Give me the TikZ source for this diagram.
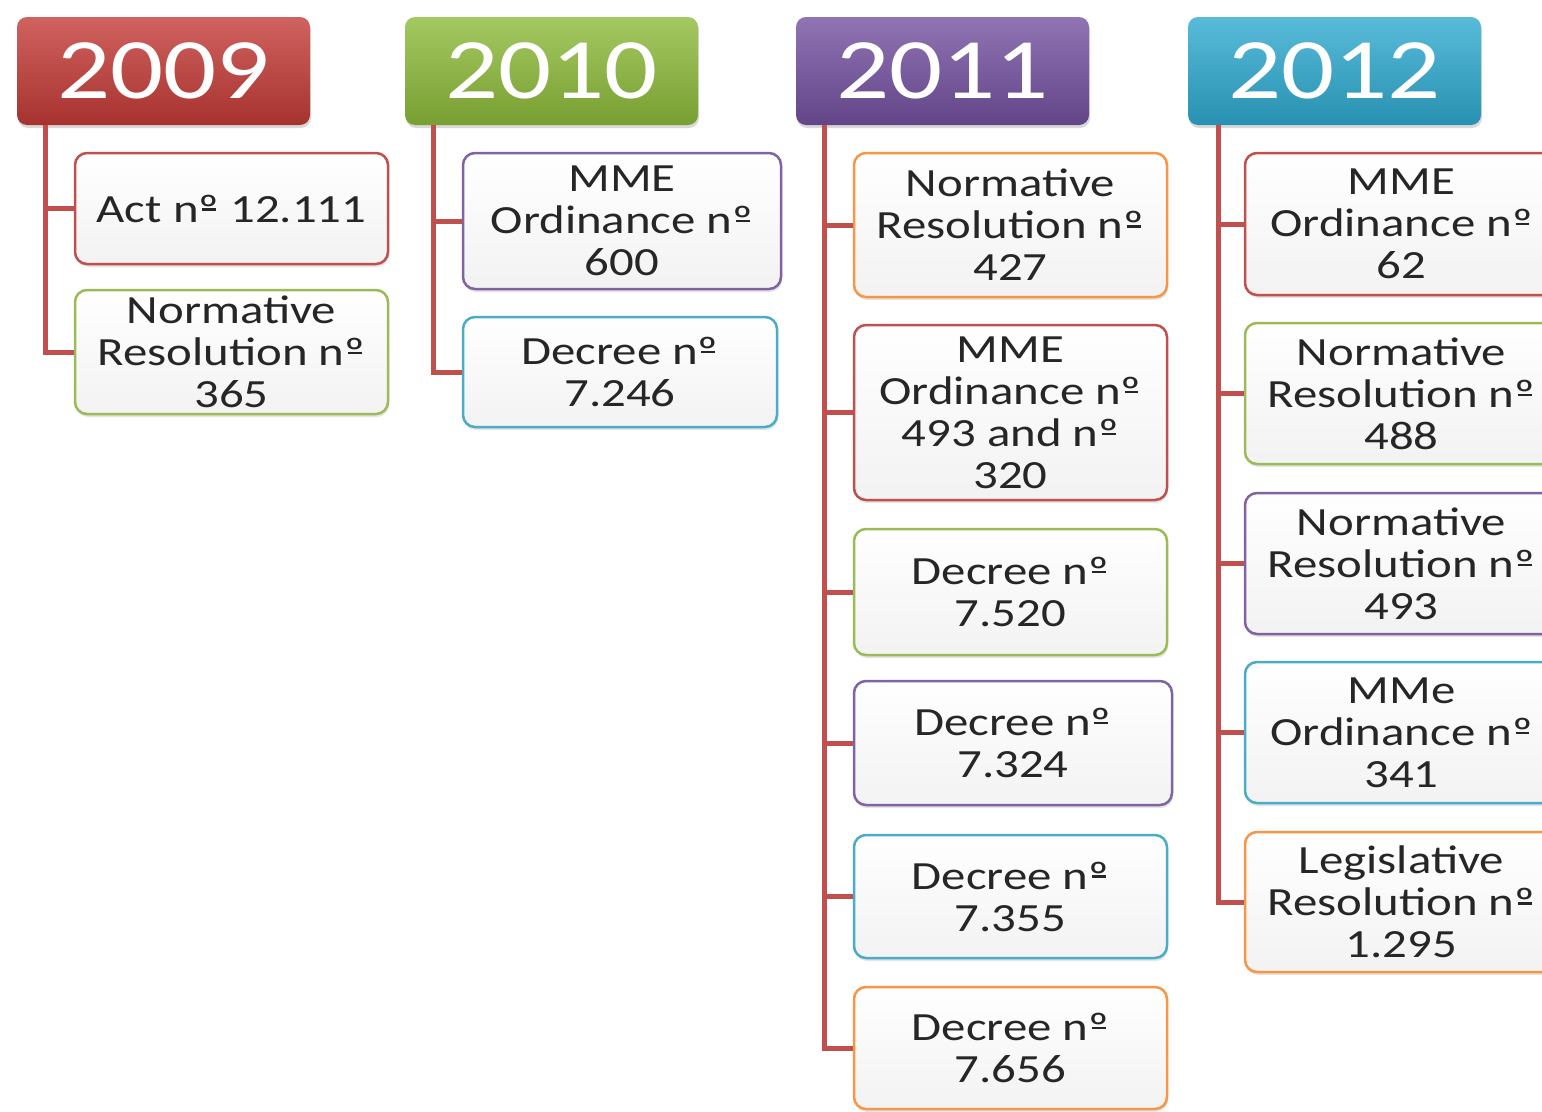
\documentclass[tikz,border=0pt]{standalone}
\usepackage{fontspec}
\setmainfont{Carlito}[FakeStretch=1.22]
% underlined ordinal, as the picture prints it
\newcommand\nord{n\ooalign{º\cr\hidewidth\rule[.28em]{.34em}{.06em}\hidewidth\cr}}
\usetikzlibrary{shadows}

\definecolor{lawred}{HTML}{C0504D}
\definecolor{lawgreen}{HTML}{9BBB59}
\definecolor{lawpurple}{HTML}{8064A2}
\definecolor{lawblue}{HTML}{4BACC6}
\definecolor{laworange}{HTML}{F79646}
\definecolor{hdrred}{HTML}{C43B37}
\definecolor{hdrgreen}{HTML}{8DBB3A}
\definecolor{hdrpurple}{HTML}{7451A0}
\definecolor{hdrblue}{HTML}{2FAAD0}

\tikzset{
  year/.style={rounded corners=10pt, minimum width=293pt, minimum height=108pt,
    top color=#1!80!white, bottom color=#1!85!black, text=white,
    font=\fontsize{86}{90}\selectfont, inner sep=0pt,
    drop shadow={shadow xshift=1pt, shadow yshift=-3pt, opacity=.3}},
  act/.style={draw=#1, line width=2.5pt, rounded corners=12pt,
    top color=white, bottom color=black!5, minimum width=313pt,
    align=center, text=black!85, font=\fontsize{40}{42}\selectfont,
    inner sep=0pt,
    drop shadow={shadow xshift=1pt, shadow yshift=-3pt, opacity=.2}},
  spine/.style={draw=lawred, line width=5pt}
}

\begin{document}
\begin{tikzpicture}[x=1pt,y=-1pt]
  \useasboundingbox (0,0) rectangle (1542,1111);
  \clip (0,0) rectangle (1542,1111);
  \fill[white] (0,0) rectangle (1542,1111);

  % year headers
  \node[year=hdrred]    (y09) at (163.5,71)  {2009};
  \node[year=hdrgreen]  (y10) at (551.5,71)  {2010};
  \node[year=hdrpurple] (y11) at (942.5,71)  {2011};
  \node[year=hdrblue]   (y12) at (1334.5,71) {2012};

  \coordinate (s09) at ([xshift=29pt]y09.south west);
  \coordinate (s10) at ([xshift=29pt]y10.south west);
  \coordinate (s11) at ([xshift=29pt]y11.south west);
  \coordinate (s12) at ([xshift=31pt]y12.south west);

  % 2009
  \node[act=lawred,minimum height=111pt]   (a1) at (231.5,208.5) {Act \nord{} 12.111};
  \node[act=lawgreen,minimum height=124pt] (a2) at (231.5,352)   {Normative\\Resolution \nord\\365};

  % 2010
  \node[act=lawpurple,minimum height=136pt,minimum width=318pt] (b1) at (622,221) {MME\\Ordinance \nord\\600};
  \node[act=lawblue,minimum height=110pt,minimum width=314pt]   (b2) at (620,372) {Decree \nord\\7.246};

  % 2011
  \node[act=laworange,minimum height=144pt] (c1) at (1010.5,225)   {Normative\\Resolution \nord\\427};
  \node[act=lawred,minimum height=175pt]    (c2) at (1010.5,412.5) {MME\\Ordinance \nord\\493 and \nord\\320};
  \node[act=lawgreen,minimum height=126pt]  (c3) at (1010.5,592)   {Decree \nord\\7.520};
  \node[act=lawpurple,minimum height=124pt,minimum width=318pt] (c4) at (1013,743) {Decree \nord\\7.324};
  \node[act=lawblue,minimum height=123pt]   (c5) at (1010.5,896.5) {Decree \nord\\7.355};
  \node[act=laworange,minimum height=122pt] (c6) at (1010.5,1048)  {Decree \nord\\7.656};

  % 2012
  \node[act=lawred,minimum height=142pt]    (d1) at (1401.5,224)   {MME\\Ordinance \nord\\62};
  \node[act=lawgreen,minimum height=141pt]  (d2) at (1401.5,393.5) {Normative\\Resolution \nord\\488};
  \node[act=lawpurple,minimum height=141pt] (d3) at (1401.5,563.5) {Normative\\Resolution \nord\\493};
  \node[act=lawblue,minimum height=141pt]   (d4) at (1401.5,732.5) {MMe\\Ordinance \nord\\341};
  \node[act=laworange,minimum height=140pt] (d5) at (1401.5,902)   {Legislative\\Resolution \nord\\1.295};

  \foreach \from/\to in {s09/a1,s09/a2,s10/b1,s10/b2,s11/c1,s11/c2,s11/c3,s11/c4,s11/c5,s11/c6,s12/d1,s12/d2,s12/d3,s12/d4,s12/d5}
    \draw[spine] (\from) |- (\to.west);

\end{tikzpicture}
\end{document}
